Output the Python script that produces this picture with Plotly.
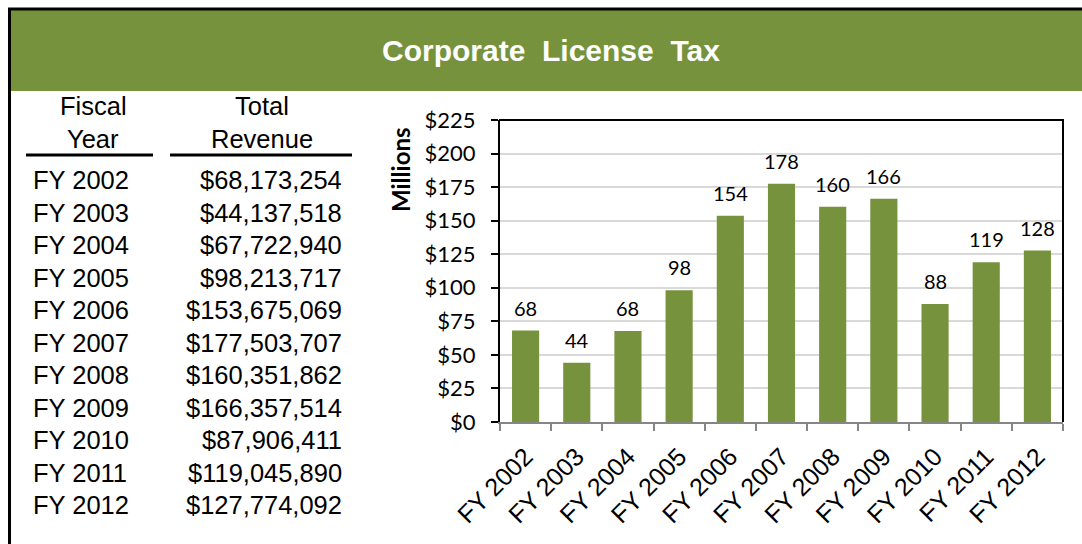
import plotly.graph_objects as go

# ---- data ----
fiscal_years = ["FY 2002", "FY 2003", "FY 2004", "FY 2005", "FY 2006", "FY 2007",
                "FY 2008", "FY 2009", "FY 2010", "FY 2011", "FY 2012"]
total_revenue = [68173254, 44137518, 67722940, 98213717, 153675069, 177503707,
                 160351862, 166357514, 87906411, 119045890, 127774092]
y_ticks = [0, 25, 50, 75, 100, 125, 150, 175, 200, 225]
title_text = "Corporate  License  Tax"
table_headers = [("Fiscal", "Year"), ("Total", "Revenue")]

millions = [v / 1e6 for v in total_revenue]

W, H = 1082, 544
GREEN = "#77923C"
ARIAL = "Liberation Sans, Arial"
CALIBRI = "Lato"


def px(x):
    return x / W


def py(y):
    return 1 - y / H


fig = go.Figure()
fig.add_trace(go.Bar(x=fiscal_years, y=millions, marker=dict(color=GREEN, line=dict(width=0)),
                     hoverinfo="skip"))

# data labels
for fy, m in zip(fiscal_years, millions):
    fig.add_annotation(x=fy, y=m, xref="x", yref="y", text=f"{m:.0f}", showarrow=False,
                       yanchor="bottom", yshift=9,
                       font=dict(family=CALIBRI, size=20, color="black"))

shapes = []
# header band
shapes.append(dict(type="rect", xref="paper", yref="paper", x0=px(10), x1=px(1082),
                   y0=py(91), y1=py(10), fillcolor=GREEN, line=dict(width=0), layer="below"))
# outer border: top and left
shapes.append(dict(type="line", xref="paper", yref="paper", x0=px(8), x1=px(1082),
                   y0=py(9), y1=py(9), line=dict(color="black", width=3)))
shapes.append(dict(type="line", xref="paper", yref="paper", x0=px(9.5), x1=px(9.5),
                   y0=py(8), y1=py(544), line=dict(color="black", width=3)))
# table header underlines
shapes.append(dict(type="line", xref="paper", yref="paper", x0=px(26), x1=px(153),
                   y0=py(155), y1=py(155), line=dict(color="black", width=3)))
shapes.append(dict(type="line", xref="paper", yref="paper", x0=px(170), x1=px(352),
                   y0=py(155), y1=py(155), line=dict(color="black", width=3)))
# plot area top and right borders
shapes.append(dict(type="line", xref="paper", yref="paper", x0=px(499), x1=px(1064),
                   y0=py(120), y1=py(120), line=dict(color="black", width=2)))
shapes.append(dict(type="line", xref="paper", yref="paper", x0=px(1063), x1=px(1063),
                   y0=py(119), y1=py(422), line=dict(color="black", width=2)))

annotations = []
# title
annotations.append(dict(x=px(551), y=py(50), xref="paper", yref="paper", text=f"<b>{title_text}</b>",
                        showarrow=False, xanchor="center", yanchor="middle",
                        font=dict(family=ARIAL, size=30, color="white")))
# table headers
hx = [93, 262]
for (l1, l2), cx in zip(table_headers, hx):
    annotations.append(dict(x=px(cx), y=py(106), xref="paper", yref="paper", text=l1,
                            showarrow=False, xanchor="center", yanchor="middle",
                            font=dict(family=ARIAL, size=25.5, color="black")))
    annotations.append(dict(x=px(cx), y=py(139), xref="paper", yref="paper", text=l2,
                            showarrow=False, xanchor="center", yanchor="middle",
                            font=dict(family=ARIAL, size=25.5, color="black")))
# table rows
for i, (fy, rev) in enumerate(zip(fiscal_years, total_revenue)):
    yc = 180 + i * 32.5
    annotations.append(dict(x=px(31), y=py(yc), xref="paper", yref="paper", text=fy,
                            showarrow=False, xanchor="left", yanchor="middle",
                            font=dict(family=ARIAL, size=25.5, color="black")))
    annotations.append(dict(x=px(344), y=py(yc), xref="paper", yref="paper", text=f"${rev:,}",
                            showarrow=False, xanchor="right", yanchor="middle",
                            font=dict(family=ARIAL, size=25.5, color="black")))
# y-axis title
annotations.append(dict(x=px(400), y=py(170), xref="paper", yref="paper", text="<b>Millions</b>",
                        showarrow=False, textangle=-90, xanchor="center", yanchor="middle",
                        font=dict(family=CALIBRI, size=24, color="black")))

for a in annotations:
    fig.add_annotation(**a)

fig.update_layout(
    width=W, height=H, autosize=False,
    margin=dict(l=0, r=0, t=0, b=0, pad=0, autoexpand=False),
    paper_bgcolor="white", plot_bgcolor="white",
    showlegend=False, bargap=0.47,
    shapes=shapes,
    xaxis=dict(domain=[px(500), px(1063)], type="category", tickangle=-45, automargin=False,
               showline=True, linecolor="#868686", linewidth=2,
               ticks="outside", tickson="boundaries", ticklen=7, tickcolor="#868686", tickwidth=2,
               ticklabelstandoff=8,
               tickfont=dict(family=ARIAL, size=25, color="black"),
               showgrid=False, fixedrange=True),
    yaxis=dict(domain=[py(422), py(120)], range=[0, 225], tickvals=y_ticks, automargin=False,
               ticktext=[f"${t}" for t in y_ticks],
               showline=True, linecolor="black", linewidth=2,
               ticks="outside", ticklen=7, tickcolor="black", tickwidth=2,
               ticklabelstandoff=11,
               tickfont=dict(family=CALIBRI, size=22, color="black"),
               showgrid=True, gridcolor="#D9D9D9", gridwidth=2, zeroline=False, fixedrange=True),
)

fig.write_html("out.html", config={"displayModeBar": False},
               post_script="document.body.style.margin='0';document.body.style.padding='0';")
